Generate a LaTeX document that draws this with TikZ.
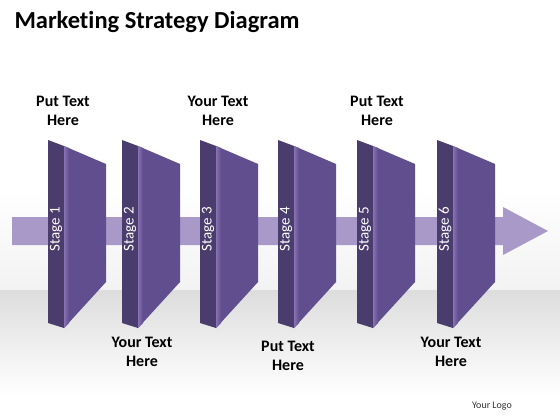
\documentclass[tikz,border=0pt]{standalone}
\usepackage{fontspec}
\setmainfont{Carlito}[Ligatures=NoCommon]
\definecolor{bandlilac}{HTML}{A999C9}
\definecolor{stripdark}{HTML}{4A3C6C}
\definecolor{facemid}{HTML}{614E8E}
\definecolor{facelight}{HTML}{8772B2}
\tikzset{
  notetext/.style={align=center, font=\bfseries\fontsize{16}{19}\selectfont},
  stagetext/.style={rotate=90, text=white, font=\fontsize{15}{16}\selectfont, inner sep=0pt}
}
\begin{document}
\begin{tikzpicture}[x=1pt,y=-1pt]
    \useasboundingbox (0,0) rectangle (560,420);
    \fill[white] (0,0) rectangle (560,420);
    % floor
    \shade[top color=white, bottom color=gray!10] (0,190) rectangle (560,290);
    \shade[top color=gray!27, bottom color=white] (0,290) rectangle (560,395);
    \node[anchor=west, font=\bfseries\fontsize{24.5}{28}\selectfont] (title) at (11,22) {Marketing Strategy Diagram};
    % arrow band
    \fill[bandlilac] (12,217) -- (503,217) -- (503,207) -- (548,231) -- (503,255) -- (503,245) -- (12,245) -- cycle;
    % panels
    \foreach \x/\n in {48/1,122/2,200/3,278/4,357/5,437/6} {
        \fill[stripdark] (\x,140) -- (\x+16,146) -- (\x+16,328) -- (\x,323) -- cycle;
        \fill[facemid] (\x+16,146) -- (\x+58,164) -- (\x+58,282) -- (\x+16,328) -- cycle;
        \shade[left color=facelight, right color=facemid] (\x+16,146) -- (\x+21,148) -- (\x+21,323) -- (\x+16,328) -- cycle;
        \node[stagetext] (s\n) at (\x+8,229) {Stage \n};
    }
    \node[notetext] (t1) at (63,111) {Put Text\\Here};
    \node[notetext] (t3) at (218,111) {Your Text\\Here};
    \node[notetext] (t5) at (377,111) {Put Text\\Here};
    \node[notetext] (t2) at (142,352) {Your Text\\Here};
    \node[notetext] (t4) at (288,356) {Put Text\\Here};
    \node[notetext] (t6) at (451,352) {Your Text\\Here};
    \node[font=\fontsize{10}{12}\selectfont, text=black!80] (logo) at (492,406) {Your Logo};
\end{tikzpicture}
\end{document}
